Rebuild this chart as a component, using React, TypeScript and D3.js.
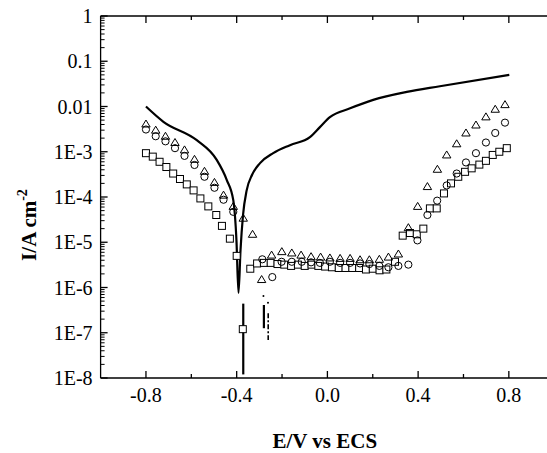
import { line, curveMonotoneX, range, scaleLinear, scaleLog } from 'd3'

// polarisation curve (solid line), E in V, I in A cm-2
const curveE = [-0.8, -0.723, -0.576, -0.488, -0.444, -0.415, -0.401, -0.392, -0.383, -0.372, -0.356, -0.332, -0.297, -0.239, -0.165, -0.077, -0.033, 0.011, 0.1, 0.202, 0.35, 0.496, 0.802]
const curveI = [1.0e-2, 4.6e-3, 1.8e-3, 6.6e-4, 2.4e-4, 8.5e-5, 1.1e-5, 7.6e-7, 6.8e-6, 4.0e-5, 1.4e-4, 3.1e-4, 5.6e-4, 9.3e-4, 1.4e-3, 2.1e-3, 3.5e-3, 5.8e-3, 9.1e-3, 1.4e-2, 2.1e-2, 2.8e-2, 5.0e-2]

// broken pieces of the curve below the corrosion potential
const tailA_E = [-0.371, -0.371]
const tailA_I = [4.4e-7, 1.2e-8]
const tailB_E = [-0.28, -0.28]
const tailB_I = [4.1e-7, 1.26e-7]
const tailC_E = [-0.261, -0.261]
const tailC_I = [2.7e-7, 6.9e-8]
const dotsE = [-0.282, -0.262]
const dotsI = [6.5e-7, 4.6e-7]

const squareE = [-0.8, -0.77, -0.74, -0.71, -0.68, -0.65, -0.62, -0.59, -0.56, -0.525, -0.49, -0.465, -0.43, -0.4, -0.373,
  -0.34, -0.31, -0.28, -0.25, -0.22, -0.19, -0.16, -0.13, -0.1, -0.07, -0.04, -0.01, 0.02, 0.05, 0.08, 0.11, 0.14, 0.17, 0.2, 0.23, 0.26, 0.298,
  0.332, 0.364, 0.394, 0.423, 0.452, 0.482, 0.514, 0.545, 0.577, 0.607, 0.636, 0.67, 0.699, 0.729, 0.758, 0.791]
const squareI = [9.3e-4, 7.8e-4, 6.0e-4, 4.6e-4, 3.3e-4, 2.5e-4, 1.9e-4, 1.4e-4, 9.3e-5, 6.2e-5, 4.0e-5, 2.3e-5, 1.2e-5, 5.0e-6, 1.2e-7,
  2.6e-6, 3.4e-6, 3.5e-6, 3.5e-6, 3.3e-6, 3.2e-6, 3.0e-6, 3.2e-6, 3.0e-6, 3.2e-6, 3.0e-6, 2.9e-6, 2.8e-6, 2.7e-6, 2.7e-6, 2.7e-6, 2.7e-6, 2.5e-6, 2.6e-6, 2.4e-6, 2.5e-6, 3.7e-6,
  1.4e-5, 1.6e-5, 1.5e-5, 2.0e-5, 5.6e-5, 5.6e-5, 1.2e-4, 2.0e-4, 2.8e-4, 3.6e-4, 4.3e-4, 5.2e-4, 6.3e-4, 8.5e-4, 1.0e-3, 1.2e-3]

const circleE = [-0.8, -0.757, -0.714, -0.672, -0.63, -0.586, -0.542, -0.498, -0.458, -0.415,
  -0.287, -0.243, -0.202, -0.157, -0.113, -0.072, -0.033, 0.011, 0.056, 0.1, 0.144, 0.185, 0.229, 0.269, 0.313, 0.357,
  0.397, 0.441, 0.484, 0.526, 0.57, 0.611, 0.655, 0.699, 0.74, 0.783]
const circleI = [3.1e-3, 2.2e-3, 1.7e-3, 1.2e-3, 8.1e-4, 5.1e-4, 2.8e-4, 1.6e-4, 8.7e-5, 4.7e-5,
  4.2e-6, 1.7e-6, 3.7e-6, 3.7e-6, 3.7e-6, 3.6e-6, 3.5e-6, 3.7e-6, 3.5e-6, 3.5e-6, 3.4e-6, 3.3e-6, 3.0e-6, 2.8e-6, 3.0e-6, 3.2e-6,
  1.1e-5, 4.0e-5, 8.3e-5, 1.8e-4, 3.3e-4, 5.8e-4, 9.3e-4, 1.6e-3, 2.6e-3, 4.4e-3]

const triangleE = [-0.8, -0.757, -0.714, -0.672, -0.63, -0.586, -0.542, -0.498, -0.458, -0.415, -0.371, -0.33, -0.29,
  -0.246, -0.201, -0.157, -0.116, -0.072, -0.03, 0.011, 0.056, 0.1, 0.144, 0.185, 0.229, 0.269, 0.313,
  0.357, 0.398, 0.441, 0.485, 0.526, 0.57, 0.611, 0.655, 0.699, 0.74, 0.783]
const triangleI = [4.1e-3, 3.0e-3, 2.2e-3, 1.6e-3, 1.1e-3, 6.8e-4, 3.7e-4, 2.1e-4, 1.1e-4, 6.2e-5, 3.4e-5, 1.5e-5, 1.5e-6,
  5.2e-6, 6.2e-6, 5.8e-6, 5.2e-6, 4.8e-6, 4.7e-6, 4.5e-6, 4.4e-6, 4.4e-6, 4.1e-6, 4.1e-6, 4.2e-6, 4.7e-6, 5.5e-6,
  2.1e-5, 6.2e-5, 1.7e-4, 4.1e-4, 8.5e-4, 1.5e-3, 2.6e-3, 3.9e-3, 5.9e-3, 8.7e-3, 1.1e-2]

const xMajor = [-0.8, -0.4, 0, 0.4, 0.8]
const xMinor = [-0.6, -0.2, 0.2, 0.6]
const xLabels = ['-0.8', '-0.4', '0.0', '0.4', '0.8']
const yDecades = [1, 0.1, 0.01, 1e-3, 1e-4, 1e-5, 1e-6, 1e-7, 1e-8]
const yLabels = ['1', '0.1', '0.01', '1E-3', '1E-4', '1E-5', '1E-6', '1E-7', '1E-8']

const W = 547
const H = 453
const LEFT = 100.6
const RIGHT = 554.2
const TOP = 16
const BOTTOM = 378
const FONT = 'Liberation Serif, Times New Roman, Times, DejaVu Serif, serif'

const x = scaleLinear().domain([-1, 1]).range([LEFT, RIGHT])
const y = scaleLog().domain([1e-8, 1]).range([BOTTOM, TOP])

const zip = (es: number[], is: number[]) => es.map((e, i) => [e, is[i]] as [number, number])
const straight = line<[number, number]>().x((d) => x(d[0])).y((d) => y(d[1]))
const smooth = line<[number, number]>().x((d) => x(d[0])).y((d) => y(d[1])).curve(curveMonotoneX)

const minorY = range(-8, 0).flatMap((k) => range(2, 10).map((m) => m * 10 ** k))

export default function App() {
  const main = smooth(zip(curveE, curveI)) ?? ''
  const txt = { fontFamily: FONT }
  return (
    <svg width={W} height={H} style={{ position: 'absolute', left: 0, top: 0, background: '#fff' }}>
      <rect width={W} height={H} fill="#fff" />
      {/* frame */}
      <g stroke="#000" strokeWidth={1.3} fill="none">
        <line x1={LEFT} x2={RIGHT} y1={TOP} y2={TOP} />
        <line x1={LEFT} x2={RIGHT} y1={BOTTOM} y2={BOTTOM} />
        <line x1={LEFT} x2={LEFT} y1={TOP} y2={BOTTOM} />
        <line x1={RIGHT} x2={RIGHT} y1={TOP} y2={BOTTOM} />
        {xMajor.map((v) => (
          <g key={`xM${v}`}>
            <line x1={x(v)} x2={x(v)} y1={BOTTOM} y2={BOTTOM - 7} />
            <line x1={x(v)} x2={x(v)} y1={TOP} y2={TOP + 7} />
          </g>
        ))}
        {xMinor.map((v) => (
          <g key={`xm${v}`}>
            <line x1={x(v)} x2={x(v)} y1={BOTTOM} y2={BOTTOM - 4} />
            <line x1={x(v)} x2={x(v)} y1={TOP} y2={TOP + 4} />
          </g>
        ))}
        {yDecades.map((v) => (
          <line key={`yM${v}`} x1={LEFT} x2={LEFT + 7} y1={y(v)} y2={y(v)} />
        ))}
        {minorY.map((v) => (
          <line key={`ym${v}`} x1={LEFT} x2={LEFT + 4} y1={y(v)} y2={y(v)} strokeWidth={1} />
        ))}
      </g>
      {/* tick labels */}
      <g fontSize={20} fill="#000" style={txt}>
        {xMajor.map((v, i) => (
          <text key={`xl${v}`} x={x(v)} y={402} textAnchor="middle" style={txt}>{xLabels[i]}</text>
        ))}
        {yDecades.map((v, i) => (
          <text key={`yl${v}`} x={LEFT - 8} y={y(v)} dy="0.35em" textAnchor="end" style={txt}>{yLabels[i]}</text>
        ))}
      </g>
      <text x={(LEFT + 547) / 2 + 1} y={448} textAnchor="middle" fontSize={21} fontWeight="bold" style={txt}>E/V vs ECS</text>
      <text transform="translate(36,225) rotate(-90)" textAnchor="middle" fontSize={21} fontWeight="bold" style={txt}>
        I/A cm<tspan fontSize={14} dy={-9}>-2</tspan>
      </text>

      {/* curve */}
      <g stroke="#000" fill="none" strokeWidth={2.2}>
        <path d={main} />
        <path d={straight(zip(tailA_E, tailA_I)) ?? ''} />
        <path d={straight(zip(tailB_E, tailB_I)) ?? ''} />
        <path d={straight(zip(tailC_E, tailC_I)) ?? ''} strokeWidth={1.6} strokeDasharray="5 2 2 2" />
      </g>
      {zip(dotsE, dotsI).map((d, i) => (
        <circle key={`dot${i}`} cx={x(d[0])} cy={y(d[1])} r={1} fill="#000" />
      ))}

      {/* markers */}
      <g stroke="#000" strokeWidth={1} fill="#fff">
        {zip(squareE, squareI).map((d, i) => (
          <rect key={`sq${i}`} x={x(d[0]) - 3.5} y={y(d[1]) - 3.5} width={7} height={7} />
        ))}
      </g>
      <g stroke="#000" strokeWidth={1} fill="none">
        {zip(circleE, circleI).map((d, i) => (
          <circle key={`ci${i}`} cx={x(d[0])} cy={y(d[1])} r={3.6} />
        ))}
        {zip(triangleE, triangleI).map((d, i) => {
          const cx = x(d[0])
          const cy = y(d[1])
          return <path key={`tr${i}`} d={`M${cx},${cy - 4}L${cx + 4.2},${cy + 3}L${cx - 4.2},${cy + 3}Z`} />
        })}
      </g>
    </svg>
  )
}
